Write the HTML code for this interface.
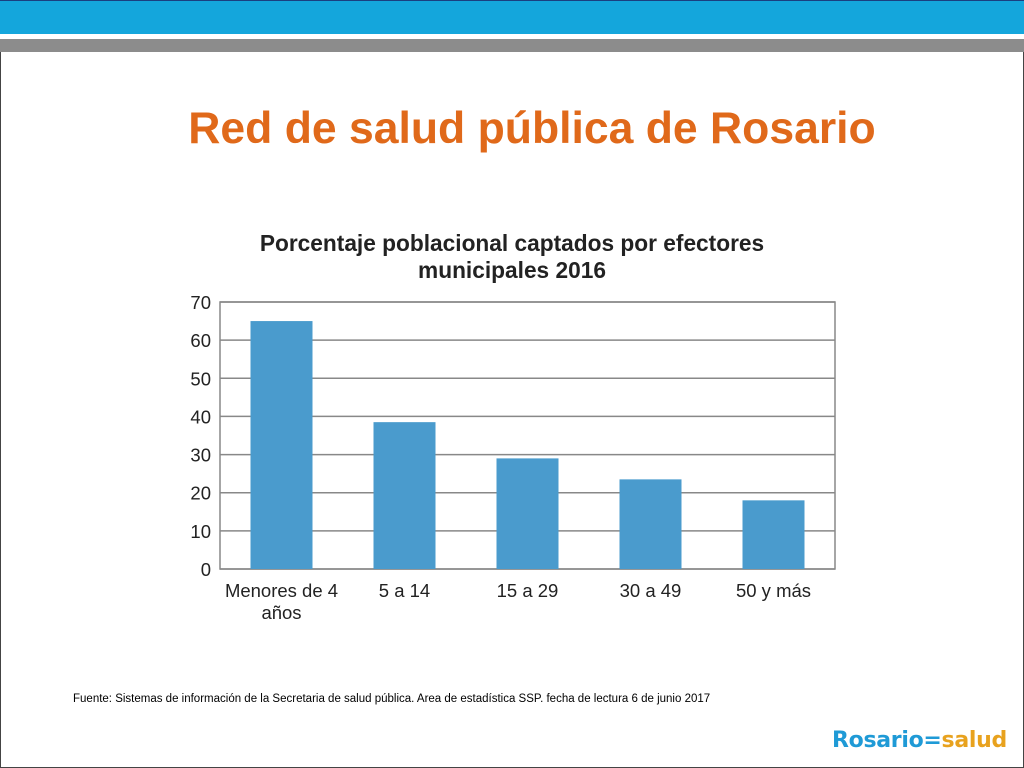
<!DOCTYPE html>
<html><head><meta charset="utf-8"><style>
body{margin:0;width:1024px;height:768px;background:#fff;position:relative;overflow:hidden;font-family:"Liberation Sans",sans-serif}
</style></head><body>
<div style="position:absolute;left:0;top:0;width:1024px;height:34px;background:#14a6dc;border-top:1px solid #1a3f80;box-sizing:border-box"></div>
<div style="position:absolute;left:0;top:39px;width:1024px;height:13px;background:#8c8c8c"></div>
<div style="position:absolute;left:0;top:52px;width:1024px;height:716px;border:1px solid #444;border-top:none;box-sizing:border-box"></div>
<div style="position:absolute;left:0;top:104px;width:1064px;text-align:center;font-size:44.5px;font-weight:bold;color:#e0691a;font-family:'Liberation Sans',sans-serif">Red de salud pública de Rosario</div>
<svg width="1024" height="768" style="position:absolute;left:0;top:0" id="chart">
<text x="512" y="251" text-anchor="middle" font-size="22.7" font-weight="bold" fill="#222">Porcentaje poblacional captados por efectores</text>
<text x="512" y="278" text-anchor="middle" font-size="22.7" font-weight="bold" fill="#222">municipales 2016</text>
</svg>
<div style="position:absolute;left:73px;top:693px;font-size:11.5px;color:#000">Fuente: Sistemas de información de la Secretaria de salud pública. Area de estadística SSP. fecha de lectura 6 de junio 2017</div>
<div style="position:absolute;left:832px;top:728px;font-size:22px;font-weight:bold;font-family:'DejaVu Sans',sans-serif;letter-spacing:-0.3px;white-space:nowrap"><span style="color:#1f9ad6">Rosario</span><span style="color:#1f9ad6">=</span><span style="color:#e8a21e">salud</span></div>
<script>
const categories=[["Menores de 4","años"],["5 a 14"],["15 a 29"],["30 a 49"],["50 y más"]];
const values=[65,38.5,29,23.5,18];
const ticks=[0,10,20,30,40,50,60,70];
const svg=document.getElementById('chart');const NS='http://www.w3.org/2000/svg';
const x0=220,x1=835,y0=569,y1=302,max=70;
const y=v=>y0-(y0-y1)*v/max;
const bw=(x1-x0)/categories.length;
function mk(t,a){const e=document.createElementNS(NS,t);for(const k in a)e.setAttribute(k,a[k]);svg.appendChild(e);return e;}
ticks.forEach(t=>{
 const l=mk('line',{x1:x0,x2:x1,y1:y(t),y2:y(t),stroke:'#888','stroke-width':1.5});
 
 
 const tx=mk('text',{x:211,y:y(t)+7,'text-anchor':'end','font-size':18.5,fill:'#222'});tx.textContent=t;
 
 
});
const fr=mk('rect',{x:x0,y:y1,width:x1-x0,height:y0-y1,fill:'none',stroke:'#888','stroke-width':1.5});


values.forEach((v,i)=>{
 const cx=x0+bw*(i+0.5);
 const r=mk('rect',{x:cx-31,y:y(v),width:62,height:y0-y(v),fill:'#4a9bcd'});
 
 
 categories[i].forEach((s,j)=>{
  const t=mk('text',{x:cx,y:597+j*22,'text-anchor':'middle','font-size':18.5,fill:'#222'});t.textContent=s;
  
  
 });
});
</script>
</body></html>
